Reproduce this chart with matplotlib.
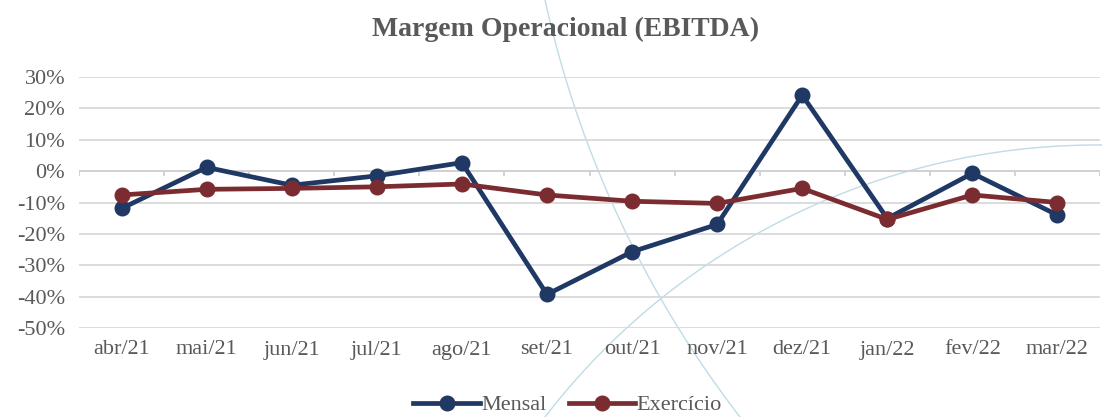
import numpy as np
import matplotlib
matplotlib.use('Agg')
import matplotlib.pyplot as plt
from matplotlib.ticker import FuncFormatter

# Dados da margem operacional (EBITDA), em %
meses = ['abr/21', 'mai/21', 'jun/21', 'jul/21', 'ago/21', 'set/21',
         'out/21', 'nov/21', 'dez/21', 'jan/22', 'fev/22', 'mar/22']
mensal = [-11.9, 1.2, -4.5, -1.5, 2.7, -39.3, -25.7, -17.0, 24.2, -15.1, -0.7, -14.0]
exercicio = [-7.6, -5.8, -5.5, -5.0, -4.1, -7.6, -9.6, -10.3, -5.5, -15.4, -7.6, -10.0]

cor_mensal = '#1F3864'
cor_exercicio = '#7B2C30'
cinza = '#595959'
fonte = ['Liberation Serif', 'DejaVu Serif']

W, H = 1102, 417
fig = plt.figure(figsize=(W / 100, H / 100), dpi=100)

# Fundo decorativo (arcos azul-claros)
bg = fig.add_axes([0, 0, 1, 1], zorder=0)
bg.set_xlim(0, W)
bg.set_ylim(H, 0)
bg.axis('off')


def arco(p1, p2, p3, n=300):
    # circulo que passa pelos tres pontos
    (x1, y1), (x2, y2), (x3, y3) = p1, p2, p3
    d = 2 * (x1 * (y2 - y3) + x2 * (y3 - y1) + x3 * (y1 - y2))
    ux = ((x1**2 + y1**2) * (y2 - y3) + (x2**2 + y2**2) * (y3 - y1) + (x3**2 + y3**2) * (y1 - y2)) / d
    uy = ((x1**2 + y1**2) * (x3 - x2) + (x2**2 + y2**2) * (x1 - x3) + (x3**2 + y3**2) * (x2 - x1)) / d
    r = np.hypot(x1 - ux, y1 - uy)
    a1 = np.arctan2(y1 - uy, x1 - ux)
    a3 = np.arctan2(y3 - uy, x3 - ux)
    a2 = np.arctan2(y2 - uy, x2 - ux)
    t = np.linspace(a1, a3, n)
    if not (min(a1, a3) <= a2 <= max(a1, a3)):
        if a3 > a1:
            t = np.linspace(a1 + 2 * np.pi, a3, n)
        else:
            t = np.linspace(a1, a3 + 2 * np.pi, n)
    return ux + r * np.cos(t), uy + r * np.sin(t)


xa, ya = arco((545, 0), (636, 253), (740, 417))
bg.plot(xa, ya, color='#BFDCE8', lw=1.0)
xb, yb = arco((545, 417), (826, 200), (1102, 145))
bg.plot(xb, yb, color='#BFDCE8', lw=1.0)

# Grafico principal
ax = fig.add_axes([79 / W, 1 - 328 / H, (1100 - 79) / W, (328 - 77) / H], zorder=1)
ax.set_facecolor('none')

x = np.arange(len(meses))
ax.plot(x, mensal, 'o-', color=cor_mensal, lw=3.4, markersize=10.5, label='Mensal', zorder=3)
ax.plot(x, exercicio, 'o-', color=cor_exercicio, lw=3.4, markersize=10.5, label='Exercício', zorder=4)

ax.set_xlim(-0.5, len(meses) - 0.5)
ax.set_ylim(-50, 30)
ax.set_yticks(np.arange(-50, 31, 10))
ax.yaxis.set_major_formatter(FuncFormatter(lambda v, p: f'{v:.0f}%'))
ax.grid(axis='y', color='#D9D9D9', lw=1.3, zorder=0)
ax.set_axisbelow(True)

# linha do eixo no zero com pequenos tracos
ax.axhline(0, color='#D0D0D0', lw=1.3, zorder=1)
ax.vlines(np.arange(len(meses) + 1) - 0.5, -1.6, 0, color='#D0D0D0', lw=1.3, zorder=1)

ax.set_xticks(x)
ax.set_xticklabels(meses)
for s in ax.spines.values():
    s.set_visible(False)
ax.tick_params(length=0, labelsize=16, labelcolor=cinza)
ax.tick_params(axis='x', pad=9)
ax.tick_params(axis='y', pad=10)
for lbl in ax.get_xticklabels() + ax.get_yticklabels():
    lbl.set_family(fonte)

fig.text(0.513, 1 - 29 / H, 'Margem Operacional (EBITDA)', ha='center', va='center',
         fontsize=20, fontweight='bold', color=cinza, family=fonte)

leg = fig.legend(loc='center', bbox_to_anchor=(0.515, 1 - 405 / H), ncol=2, frameon=False,
                 prop={'family': fonte, 'size': 16}, handlelength=3.0, handletextpad=0.05,
                 columnspacing=1.0)
for t in leg.get_texts():
    t.set_color(cinza)

fig.savefig('out.png', dpi=100)
